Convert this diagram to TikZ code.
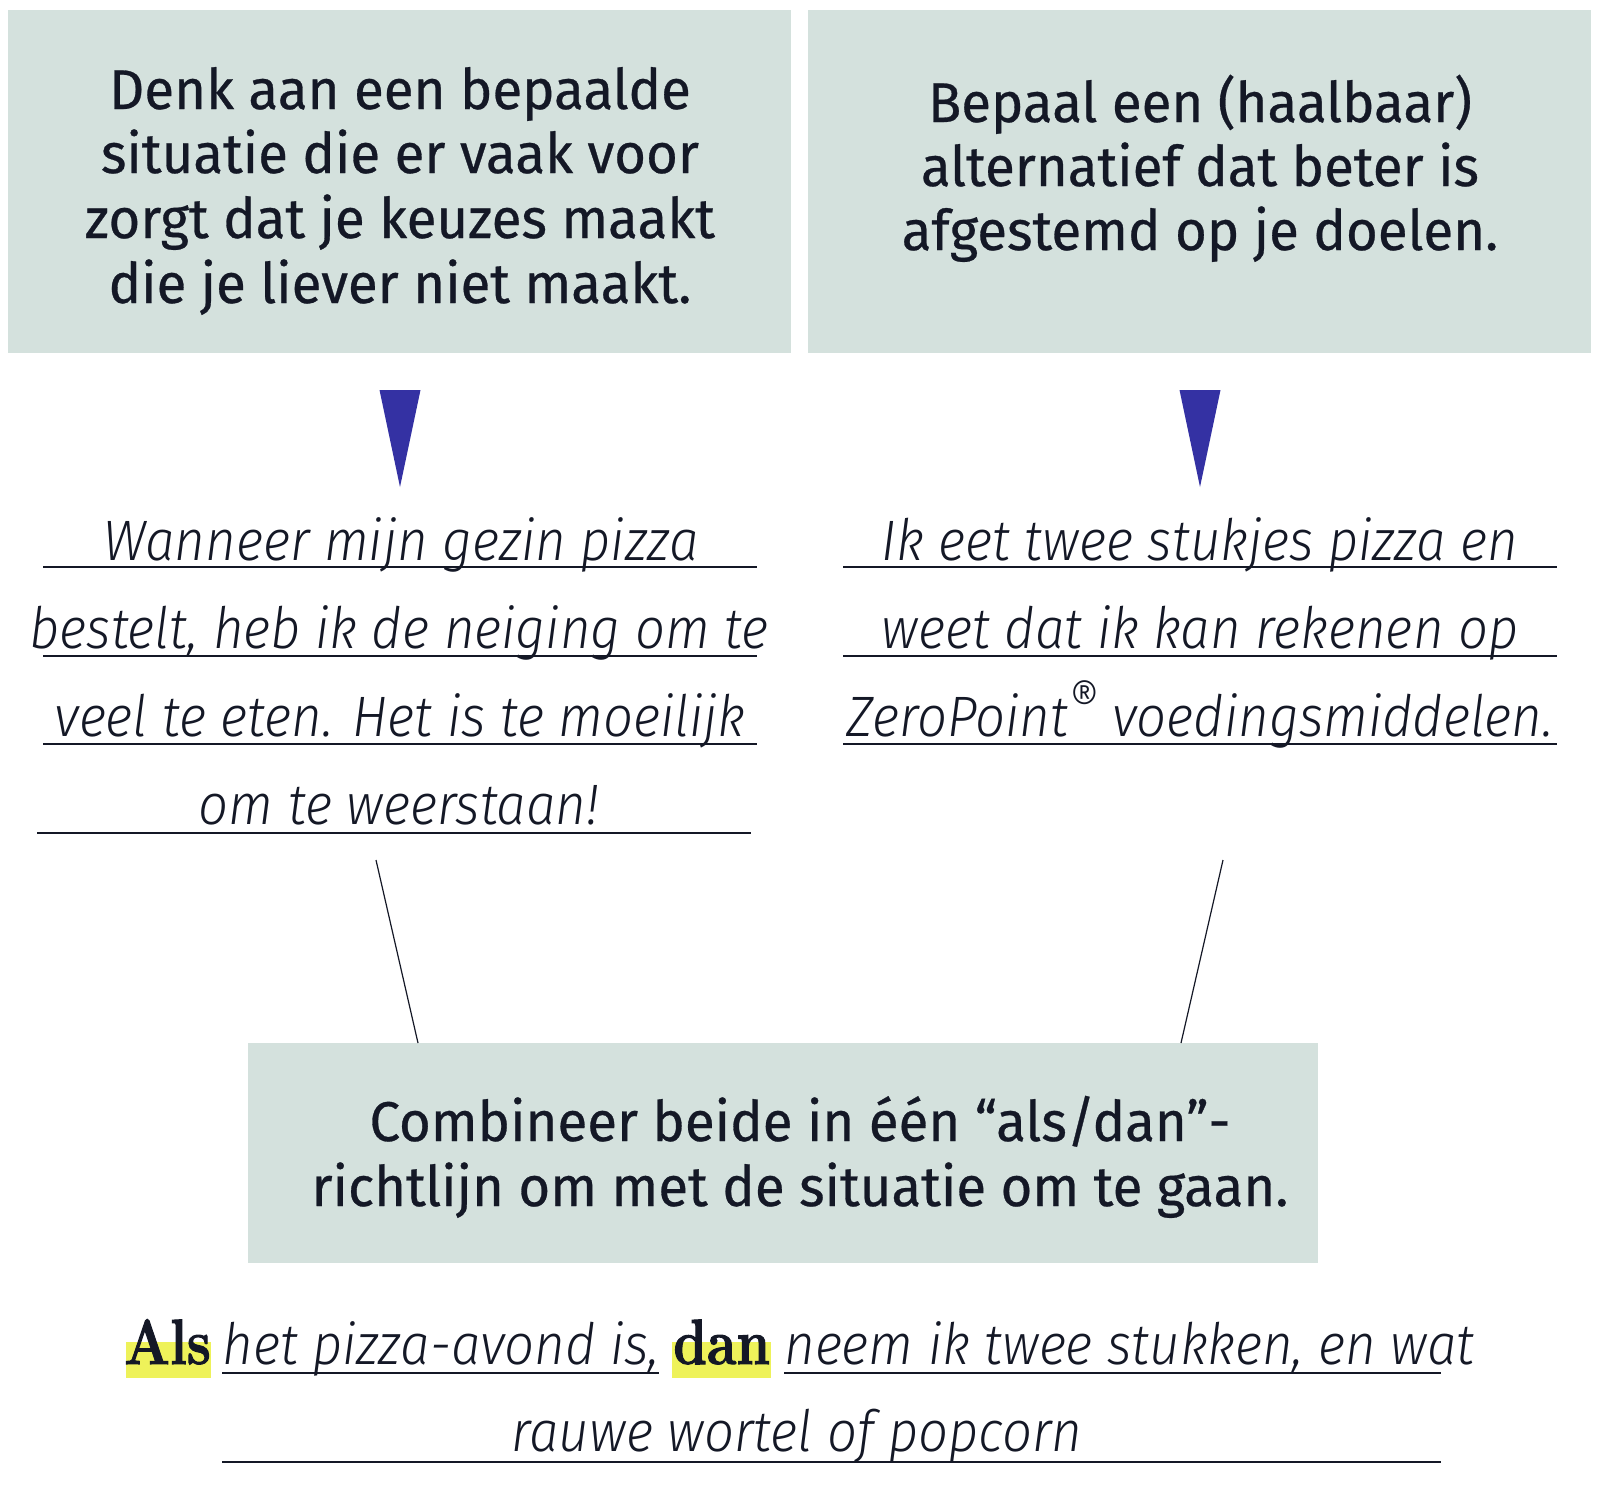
\documentclass[tikz,border=0pt]{standalone}
\usepackage{fontspec}
\newfontfamily\headfont[FakeStretch=0.975,FakeBold=0.5]{Fira Sans}
\newfontfamily\itfont[FakeStretch=0.925]{Fira Sans Light Italic}
\newfontfamily\didone[FakeStretch=0.84,FakeBold=1.6]{Latin Modern Roman}
\definecolor{boxfill}{HTML}{D4E1DD}
\definecolor{tri}{HTML}{3431A3}
\definecolor{hl}{HTML}{EEF25A}
\definecolor{ink}{HTML}{141826}
\newcommand{\regmark}{\raisebox{0.32em}{\fontsize{25}{25}\selectfont\textregistered}}
\begin{document}
\begin{tikzpicture}[x=0.5pt,y=-0.5pt,
  box/.style={fill=boxfill,draw=none},
  head/.style={anchor=base,inner sep=0,text=ink,font=\headfont\fontsize{28}{34}\selectfont},
  itl/.style={anchor=base,inner sep=0,text=ink,font=\itfont\fontsize{28.5}{34}\selectfont},
  serifbold/.style={anchor=base west,inner sep=0,text=ink,font=\didone\bfseries\fontsize{32}{36}\selectfont},
  uline/.style={draw=ink,line width=0.9pt},
  conn/.style={draw=ink,line width=0.6pt},
  arrowtri/.style={fill=tri,draw=none}]
\useasboundingbox (0,0) rectangle (1600,1500);
\fill[white] (0,0) rectangle (1600,1500);
% top boxes
\path[box] (8,10) rectangle (791,353);
\path[box] (808,10) rectangle (1591,353);
\node[head] (l1) at (400,109) {Denk aan een bepaalde};
\node[head] (l2) at (400,173) {situatie die er vaak voor};
\node[head] (l3) at (400,238) {zorgt dat je keuzes maakt};
\node[head] (l4) at (400,303) {die je liever niet maakt.};
\node[head] (r1) at (1200,122) {Bepaal een (haalbaar)};
\node[head] (r2) at (1200,186) {alternatief dat beter is};
\node[head] (r3) at (1200,250) {afgestemd op je doelen.};
% triangles
\path[arrowtri] (379.5,390) -- (420.5,390) -- (400,487) -- cycle;
\path[arrowtri] (1179.5,390) -- (1220.5,390) -- (1200,487) -- cycle;
% left answer lines
\node[itl] (a1) at (401,560) {Wanneer mijn gezin pizza};
\node[itl] (a2) at (399,648) {bestelt, heb ik de neiging om te};
\node[itl] (a3) at (400,736) {veel te eten. Het is te moeilijk};
\node[itl] (a4) at (399,824) {om te weerstaan!};
\draw[uline] (43,567) -- (757,567);
\draw[uline] (43,656) -- (757,656);
\draw[uline] (43,744) -- (757,744);
\draw[uline] (37,833) -- (751,833);
% right answer lines
\node[itl] (b1) at (1200,560) {Ik eet twee stukjes pizza en};
\node[itl] (b2) at (1200,648) {weet dat ik kan rekenen op};
\node[itl] (b3) at (1200,736) {ZeroPoint\regmark\ voedingsmiddelen.};
\draw[uline] (843,567) -- (1557,567);
\draw[uline] (843,656) -- (1557,656);
\draw[uline] (843,744) -- (1557,744);
% connectors
\coordinate (cl1) at (376,860);
\coordinate (cr1) at (1223,860);
% bottom box
\path[box] (248,1043) rectangle (1318,1263);
\coordinate (cl2) at (418,1043);
\coordinate (cr2) at (1181,1043);
\draw[conn] (cl1) -- (cl2);
\draw[conn] (cr1) -- (cr2);
\node[head] (c1) at (800,1141) {Combineer beide in één “als/dan”-};
\node[head] (c2) at (800,1206) {richtlijn om met de situatie om te gaan.};
% bottom sentence
\path[fill=hl] (126,1342) rectangle (211,1378);
\path[fill=hl] (672,1342) rectangle (771,1378);
\node[serifbold] (als) at (124,1364) {Als};
\node[serifbold] (dan) at (673,1364) {dan};
\node[itl,anchor=base west] (s1) at (222,1364) {het pizza-avond is,};
\node[itl,anchor=base west] (s2) at (784,1364) {neem ik twee stukken, en wat};
\draw[uline] (222,1373) -- (659,1373);
\draw[uline] (784,1373) -- (1441,1373);
\node[itl] (s3) at (797,1451) {rauwe wortel of popcorn};
\draw[uline] (222,1462) -- (1441,1462);
\end{tikzpicture}
\end{document}
